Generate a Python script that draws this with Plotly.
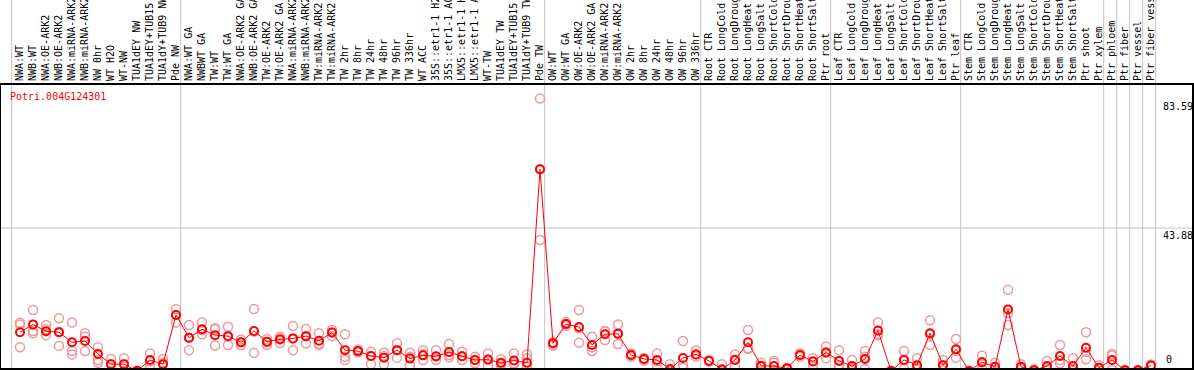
import plotly.graph_objects as go

labels = [
    "NWA:WT", "NWB:WT", "NWA:OE-ARK2", "NWB:OE-ARK2", "NWA:miRNA-ARK2", "NWB:miRNA-ARK2",
    "NW 0hr", "WT H2O", "WT-NW", "TUA1dEY NW", "TUA1dEY+TUB15 NW", "TUA1dY+TUB9 NW", "Pde NW",
    "NWA:WT GA", "NWBWT GA", "TW:WT", "TW:WT GA", "NWA:OE-ARK2 GA", "NWB:OE-ARK2 GA",
    "TW:OE-ARK2", "TW:OE-ARK2 GA", "NWA:miRNA-ARK2", "NWB:miRNA-ARK2", "TW:miRNA-ARK2",
    "TW:miRNA-ARK2", "TW 2hr", "TW 8hr", "TW 24hr", "TW 48hr", "TW 96hr", "TW 336hr", "WT ACC",
    "35S::etr1-1 H2O", "35S::etr1-1 ACC", "LMX5::etr1-1 H2O", "LMX5::etr1-1 ACC", "WT-TW",
    "TUA1dEY TW", "TUA1dEY+TUB15 TW", "TUA1dY+TUB9 TW", "Pde TW",
    "OW:WT", "OW:WT GA", "OW:OE-ARK2", "OW:OE-ARK2 GA", "OW:miRNA-ARK2", "OW:miRNA-ARK2",
    "OW 2hr", "OW 8hr", "OW 24hr", "OW 48hr", "OW 96hr", "OW 336hr",
    "Root CTR", "Root LongCold", "Root LongDrought", "Root LongHeat", "Root LongSalt",
    "Root ShortCold", "Root ShortDrought", "Root ShortHeat", "Root ShortSalt", "Ptr root",
    "Leaf CTR", "Leaf LongCold", "Leaf LongDrought", "Leaf LongHeat", "Leaf LongSalt",
    "Leaf ShortCold", "Leaf ShortDrought", "Leaf ShortHeat", "Leaf ShortSalt", "Ptr leaf",
    "Stem CTR", "Stem LongCold", "Stem LongDrought", "Stem LongHeat", "Stem LongSalt",
    "Stem ShortCold", "Stem ShortDrought", "Stem ShortHeat", "Stem ShortSalt", "Ptr shoot",
    "Ptr xylem", "Ptr phloem", "Ptr fiber", "Ptr vessel", "Ptr fiber vessel",
]

group_sizes = [13, 28, 12, 10, 10, 11, 1, 1, 1, 1]

means = [
    11.9, 14.3, 12.2, 11.9, 8.8, 9.2, 5.2, 2.1, 2.1, 0.0, 3.4, 2.1, 17.2,
    10.2, 12.8, 11.0, 10.7, 8.8, 12.3, 9.0, 9.7, 10.0, 10.7, 9.3, 11.8, 6.4, 6.1,
    4.6, 4.1, 6.4, 3.8, 4.8, 4.5, 5.8, 4.5, 3.4, 3.5, 2.5, 3.2, 2.5, 61.9,
    8.5, 14.4, 13.5, 8.0, 11.3, 11.4, 4.9, 3.7, 3.4, 0.6, 4.0, 5.1,
    3.1, 0.5, 3.4, 8.8, 1.6, 1.5, 0.8, 4.9, 2.9, 5.7,
    3.1, 1.5, 3.7, 12.4, 0.0, 3.4, 1.8, 11.6, 1.8, 6.7,
    0.0, 2.7, 1.3, 18.9, 1.3, 0.2, 1.5, 4.6, 1.5, 7.1,
    1.0, 3.4, 0.2, 0.2, 1.7,
]

rep1 = [
    14.8, 18.7, 14.1, 16.2, 14.9, 11.6, 7.3, 3.7, 3.9, 0.0, 5.4, 3.7, 19.0,
    14.1, 14.9, 13.1, 13.6, 8.8, 19.0, 9.8, 10.5, 13.8, 12.9, 11.6, 12.6, 11.3, 6.6,
    5.9, 5.6, 8.5, 5.6, 6.4, 6.4, 8.3, 5.9, 4.4, 5.4, 3.6, 5.4, 5.1, 83.59,
    9.0, 15.0, 18.7, 10.5, 12.3, 14.3, 5.4, 3.9, 5.4, 2.1, 9.2, 6.4,
    3.4, 2.1, 5.1, 12.6, 2.5, 3.1, 1.0, 5.4, 3.9, 7.5,
    6.4, 3.4, 6.1, 14.9, 0.0, 6.1, 3.9, 15.6, 3.4, 9.8,
    0.0, 4.7, 2.5, 24.9, 2.1, 0.5, 3.1, 8.0, 3.9, 11.9,
    1.8, 5.2, 0.3, 0.3, 2.0,
]

rep2 = [
    14.3, 12.3, 12.8, 7.7, 6.1, 10.5, 3.4, 2.1, 0.0, 0.0, 2.9, 2.5, 17.2,
    6.4, 12.6, 12.8, 10.7, 8.0, 12.1, 8.8, 10.0, 10.0, 10.7, 8.0, 11.8, 4.4, 6.1,
    4.6, 4.6, 6.4, 1.8, 5.1, 4.4, 4.9, 3.4, 2.4, 1.8, 1.8, 2.4, 3.9, 61.9,
    8.5, 14.4, 13.1, 7.3, 9.5, 8.3, 4.4, 3.2, 1.8, 0.0, 1.8, 5.1,
    2.9, 0.0, 1.5, 7.0, 1.2, 2.5, 0.8, 4.9, 1.8, 3.9,
    1.8, 1.0, 0.6, 11.0, 0.0, 0.7, 1.0, 8.0, 1.8, 4.1,
    0.0, 2.7, 1.0, 14.1, 1.2, 0.0, 1.0, 3.4, 0.5, 3.6,
    1.0, 4.7, 0.2, 0.0, 1.7,
]

rep3 = [
    7.3, 11.6, 11.0, 12.0, 5.1, 6.1, 2.5, 0.0, 2.1, 0.0, 1.8, 0.0, 14.9,
    10.2, 11.3, 7.8, 8.0, 9.7, 5.6, 8.0, 8.6, 6.4, 8.5, 8.4, 10.7, 3.4, 5.7,
    2.1, 2.1, 4.1, 4.3, 3.4, 3.4, 4.2, 4.6, 3.4, 3.5, 2.1, 2.1, 1.3, 40.2,
    7.8, 13.8, 8.7, 6.1, 12.1, 11.6, 4.9, 3.9, 3.0, 0.0, 1.0, 4.4,
    3.0, 0.0, 3.5, 6.8, 1.1, 0.0, 0.5, 4.4, 3.0, 5.7,
    1.1, 0.0, 4.4, 11.3, 0.0, 3.4, 0.5, 11.2, 0.2, 6.2,
    0.0, 0.7, 0.4, 17.7, 0.6, 0.0, 0.4, 2.4, 0.0, 5.8,
    0.2, 0.3, 0.0, 0.0, 1.4,
]

title_text = "Potri.004G124301"
ytick_vals = [83.59, 43.88, 0]
ytick_text = ["83.59", "43.88", "0"]

n = len(labels)
xs = list(range(n))

W, H = 1194, 370
ML, MR, MT, MB = 1, 2, 85, 2
plot_w = W - ML - MR
plot_h = H - MT - MB

PINK = "#F09898"
RED = "#FF0000"
MONO = "DejaVu Sans Mono"

fig = go.Figure()

for rep in (rep1, rep2, rep3):
    fig.add_trace(go.Scatter(
        x=xs, y=rep, mode="markers",
        marker=dict(symbol="circle-open", size=9, color=PINK, line=dict(width=1.5, color=PINK)),
        hoverinfo="skip", showlegend=False,
    ))

fig.add_trace(go.Scatter(
    x=xs, y=means, mode="lines+markers",
    line=dict(color=RED, width=1),
    marker=dict(symbol="circle-open", size=8, color=RED, line=dict(width=2, color=RED)),
    showlegend=False,
))

step = 13.0
x0 = -(20 - ML) / step
x1 = x0 + plot_w / step

shapes = []
bounds = [-1]
c = 0
for g in group_sizes:
    c += g
    bounds.append(c - 1)
top_paper = 1 + MT / plot_h
for b in bounds:
    shapes.append(dict(type="line", xref="x", yref="paper", x0=b + 0.36, x1=b + 0.36,
                       y0=0, y1=top_paper, line=dict(color="#C4C4C4", width=1), layer="below"))
shapes.append(dict(type="line", xref="paper", yref="y", x0=0, x1=1, y0=ytick_vals[1], y1=ytick_vals[1],
                   line=dict(color="#C4C4C4", width=1), layer="below"))

yr0, yr1 = 0.92, 87.77

annotations = [
    dict(text=title_text, xref="paper", yref="paper", x=(8 - ML) / plot_w, y=1 - (97 - MT) / plot_h,
         xanchor="left", yanchor="middle", showarrow=False, font=dict(family=MONO, size=10, color=RED)),
]
lab_x = (1161 - ML) / plot_w
for v, t in zip(ytick_vals, ytick_text):
    if v == 0:
        annotations.append(dict(text=t, xref="paper", yref="y", x=lab_x + 3 / plot_w, y=yr0,
                                xanchor="left", yanchor="bottom", yshift=1, showarrow=False,
                                font=dict(family=MONO, size=10, color="black")))
    else:
        annotations.append(dict(text=t, xref="paper", yref="y", x=lab_x, y=v, xanchor="left",
                                yanchor="top", showarrow=False,
                                font=dict(family=MONO, size=10, color="black")))

fig.update_layout(
    template="none",
    width=W, height=H,
    margin=dict(l=ML, r=MR, t=MT, b=MB, pad=0),
    paper_bgcolor="white", plot_bgcolor="white",
    shapes=shapes, annotations=annotations,
    xaxis=dict(range=[x0, x1], tickmode="array", tickvals=xs, ticktext=labels, side="top",
               tickangle=-90, tickfont=dict(family=MONO, size=10, color="black"),
               showgrid=False, zeroline=False, showline=True, linecolor="black", linewidth=2,
               mirror=True, ticks="", automargin=False, fixedrange=True),
    yaxis=dict(range=[yr0, yr1], showticklabels=False, showgrid=False, zeroline=False,
               showline=True, linecolor="black", linewidth=2, mirror=True, ticks="",
               automargin=False, fixedrange=True),
)

fig.write_html(
    "out.html",
    config={"displayModeBar": False, "staticPlot": True},
    post_script="document.body.style.margin='0';document.body.style.overflow='hidden';",
)
